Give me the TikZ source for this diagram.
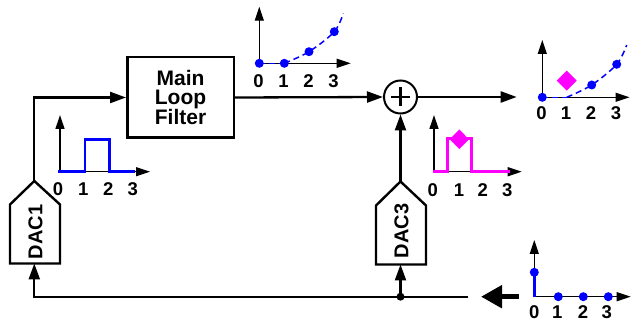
\documentclass[tikz,border=0pt]{standalone}
\usepackage{fontspec}
\setmainfont{Liberation Sans}
\usetikzlibrary{arrows.meta}
\definecolor{mag}{RGB}{255,0,255}
\definecolor{pblue}{RGB}{0,0,255}
\begin{document}
\begin{tikzpicture}[x=1pt,y=-1pt,
  main/.style={line width=2.3pt},
  mainarr/.style={main,-{Triangle[length=16pt,width=11pt]}},
  axis/.style={line width=1.3pt,-{Triangle[length=14pt,width=9pt]}},
  lbl/.style={font=\fontsize{18.5}{18.5}\selectfont\bfseries,inner sep=0pt},
  daclbl/.style={font=\fontsize{20}{20}\selectfont\bfseries,inner sep=0pt,rotate=90},
  pulse/.style={line width=2.5pt},
  dashcurve/.style={pblue,line width=1.5pt,dash pattern=on 6pt off 4pt},
  dacbox/.style={line width=2.4pt,line join=miter}]
\useasboundingbox (0,0) rectangle (632,320);

% ---- blocks ----
\node[draw,line width=2.5pt,minimum width=106.5pt,minimum height=80.5pt,inner sep=0pt,
  align=center,font=\fontsize{21}{18.8}\selectfont\bfseries] (filter) at (180.5,97.5) {Main\\Loop\\Filter};
\node[circle,draw,line width=2pt,minimum size=33pt,inner sep=0pt] (adder) at (400.5,97) {};
\draw[line width=2.2pt] (adder.center) ++(-9.5,0) -- ++(19,0);
\draw[line width=2.2pt] (adder.center) ++(0,-9.5) -- ++(0,19);

% DAC1
\coordinate (dac1top) at (34.3,181);
\coordinate (dac1bot) at (34.3,263.5);
\draw[dacbox] (dac1bot) -- (10,263.5) -- (10,204.5) -- (dac1top) -- (60,204.5) -- (60,263.5) -- cycle;
\node[daclbl] (dac1) at (35.5,232) {DAC1};

% DAC3
\coordinate (dac3top) at (400.5,181.5);
\coordinate (dac3bot) at (400.5,264.5);
\draw[dacbox] (dac3bot) -- (376,264.5) -- (376,205.5) -- (dac3top) -- (426,205.5) -- (426,264.5) -- cycle;
\node[daclbl] (dac3) at (401.5,231) {DAC3};

% ---- connectors ----
\coordinate (outend) at (516.7,97);
\coordinate (fbstart) at (468,296.7);
\node[circle,fill=black,inner sep=0pt,minimum size=8pt] (junc) at (400.5,296.7) {};
\draw[mainarr] (dac1top) |- (filter.west);
\draw[mainarr] (filter.east) -- (adder.west);
\draw[mainarr] (adder.east) -- (outend);
\draw[mainarr] (dac3top) -- (adder.south);
\draw[mainarr] (fbstart) -| (dac1bot);
\draw[mainarr] (junc.center) -- (dac3bot);
\coordinate (bigstart) at (519,296.7);
\coordinate (bigend) at (481,296.7);
\draw[line width=5pt,-{Triangle[length=21pt,width=22pt]}] (bigstart) -- (bigend);

% ---- graph 1 (filter output) ----
\draw[axis] (259.3,63.3) -- (259.3,6.7);
\draw[axis] (259.3,63.3) -- (350.7,63.3);
\draw[dashcurve] (259.3,63.3) -- (284.3,63.3);
\draw[dashcurve] plot[smooth,tension=0.55] coordinates {(284.3,63.3) (309,51.7) (334.3,31.7) (343.3,13.3)};
\foreach \p in {(259.3,63.3),(284.3,63.3),(309,51.7),(334.3,31.7)} \fill[pblue] \p circle (4.5);
\foreach \i/\x in {0/258.5,1/283.5,2/308.5,3/333.5} \node[lbl] (ga\i) at (\x,81.5) {\i};

% ---- graph 2 (DAC1 output) ----
\draw[axis] (60,171.7) -- (60,115);
\draw[axis] (60,171.7) -- (150,171.7);
\draw[pulse,pblue] (58.3,171.7) -- (85,171.7) -- (85,139.3) -- (109.3,139.3) -- (109.3,171.7) -- (135,171.7);
\foreach \i/\x in {0/58,1/83.3,2/108.3,3/132.7} \node[lbl] (gb\i) at (\x,188.7) {\i};

% ---- graph 3 (output) ----
\draw[axis] (542.3,97.3) -- (542.3,40);
\draw[axis] (542.3,97.3) -- (629.5,97.3);
\draw[dashcurve] (542.3,97.3) -- (566.7,97.3);
\draw[dashcurve] plot[smooth,tension=0.55] coordinates {(566.7,97.3) (591.7,85) (616.7,64.3) (626.7,45)};
\foreach \p in {(542.3,97.3),(591.7,85),(616.7,64.3)} \fill[pblue] \p circle (4.5);
\fill[mag] (566.7,70.7) -- (576.7,80.7) -- (566.7,90.7) -- (556.7,80.7) -- cycle;
\foreach \i/\x in {0/541.5,1/566,2/591,3/616} \node[lbl] (gc\i) at (\x,113.3) {\i};

% ---- graph 4 (DAC3 output) ----
\draw[axis] (434,171.7) -- (434,115);
\draw[axis] (434,171.7) -- (521.7,171.7);
\draw[pulse,mag] (432.7,171.7) -- (447.3,171.7) -- (447.3,138.3) -- (471.7,138.3) -- (471.7,171.7) -- (510,171.7);
\fill[mag] (459.3,129.5) -- (469,139.3) -- (459.3,149) -- (449.6,139.3) -- cycle;
\foreach \i/\x in {0/432.7,1/459,2/482.7,3/507.3} \node[lbl] (gd\i) at (\x,190) {\i};

% ---- graph 5 (input impulse) ----
\draw[axis] (534.3,296.7) -- (534.3,240);
\draw[axis] (534.3,296.7) -- (630.7,296.7);
\draw[pulse,pblue] (534.3,296.7) -- (534.3,272.3);
\foreach \p in {(534.3,272.3),(558.3,296.7),(583.3,296.7),(608.3,296.7)} \fill[pblue] \p circle (4.5);
\foreach \i/\x in {0/534.3,1/557.3,2/583,3/606.7} \node[lbl] (ge\i) at (\x,312) {\i};
\end{tikzpicture}
\end{document}
